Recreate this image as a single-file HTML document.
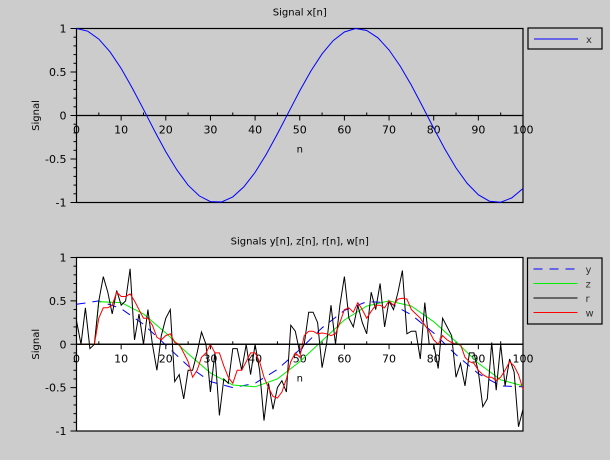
<!DOCTYPE html>
<html><head><meta charset="utf-8"><style>
body{margin:0;background:#cccccc;}
svg{display:block;font-family:"DejaVu Sans","Liberation Sans",sans-serif;}
</style></head><body>
<svg id="chart" width="610" height="460" xmlns="http://www.w3.org/2000/svg"></svg>
<script>
// ---- data ----
const xN = [0,2.5,5,7.5,10,12.5,15,17.5,20,22.5,25,27.5,30,32.5,35,37.5,40,42.5,45,47.5,50,52.5,55,57.5,60,62.5,65,67.5,70,72.5,75,77.5,80,82.5,85,87.5,90,92.5,95,97.5,100];
const xVals = [1.000,0.969,0.878,0.732,0.540,0.315,0.071,-0.178,-0.416,-0.628,-0.801,-0.924,-0.990,-0.994,-0.936,-0.820,-0.654,-0.446,-0.211,0.037,0.284,0.512,0.709,0.861,0.960,1.000,0.977,0.893,0.754,0.568,0.347,0.105,-0.146,-0.386,-0.602,-0.780,-0.911,-0.985,-0.997,-0.947,-0.839];
const yN = [0,5,10,15,20,25,30,35,40,45,50,55,60,65,70,75,80,85,90,95,100];
const yVals = [0.46,0.50,0.41,0.23,-0.01,-0.25,-0.43,-0.50,-0.45,-0.29,-0.06,0.19,0.39,0.49,0.48,0.34,0.13,-0.12,-0.34,-0.48,-0.49];
const zN = [0,4,5,10,15,20,25,30,35,40,45,50,55,60,65,70,75,80,85,90,95,100];
const zVals = [0,0,0.49,0.48,0.35,0.13,-0.11,-0.33,-0.47,-0.49,-0.40,-0.20,0.04,0.28,0.44,0.50,0.44,0.26,0.03,-0.22,-0.41,-0.48];
const rVals = [0.27,0.0,0.42,-0.05,0.0,0.5,0.78,0.6,0.35,0.62,0.45,0.5,0.87,0.05,0.35,0.0,0.4,0.0,-0.3,0.1,0.3,0.4,-0.43,-0.35,-0.63,-0.3,-0.3,-0.1,0.14,0.0,-0.55,-0.1,-0.82,-0.4,-0.45,-0.05,-0.05,-0.3,0.0,-0.35,0.0,-0.3,-0.88,-0.45,-0.75,-0.5,-0.42,-0.55,0.22,0.15,-0.1,0.0,0.37,0.37,0.25,-0.27,0.0,0.45,0.0,0.45,0.78,0.3,0.2,0.45,0.25,0.12,0.6,0.4,0.7,0.2,0.5,0.4,0.6,0.85,0.12,0.15,0.15,-0.17,0.48,0.0,0.0,-0.28,0.3,0.2,0.1,-0.38,-0.22,-0.48,-0.1,-0.1,-0.32,-0.72,-0.63,0.02,-0.53,0.0,-0.48,-0.17,-0.32,-0.95,-0.75];
const wVals = [0,0,0,0,0,0.3,0.42,0.42,0.45,0.6,0.55,0.55,0.58,0.5,0.4,0.3,0.3,0.22,0.08,0.05,0.1,0.12,0.02,0.0,-0.1,-0.2,-0.38,-0.3,-0.15,-0.1,0.0,-0.1,-0.1,-0.25,-0.38,-0.45,-0.3,-0.3,-0.2,-0.1,-0.1,-0.2,-0.38,-0.5,-0.6,-0.62,-0.55,-0.4,-0.2,-0.1,-0.15,0.1,0.15,0.15,0.12,0.13,0.12,0.1,0.12,0.25,0.4,0.42,0.37,0.48,0.4,0.3,0.38,0.45,0.45,0.42,0.5,0.45,0.52,0.53,0.52,0.4,0.35,0.3,0.22,0.15,0.05,0.0,0.1,0.05,0.02,0.0,0.0,-0.15,-0.2,-0.22,-0.3,-0.35,-0.38,-0.38,-0.42,-0.38,-0.3,-0.2,-0.25,-0.35,-0.52];
const xTicks = [0,10,20,30,40,50,60,70,80,90,100];
const yTicks = [-1,-0.5,0,0.5,1];

const NS="http://www.w3.org/2000/svg";
const svg=document.getElementById('chart');
function mk(tag,attrs,parent){const e=document.createElementNS(NS,tag);for(const k in attrs)e.setAttribute(k,attrs[k]);(parent||svg).appendChild(e);return e;}

function makeAxes(top,bottom,title,fill,name){
  const L=76.5,R=523;
  const g=mk('g',{});
  
  
  const sx=v=>L+(v/100)*(R-L);
  const sy=v=>(top+bottom)/2-v*(bottom-top)/2;
  const bg=mk('rect',{x:L,y:top,width:R-L,height:bottom-top,fill:fill,stroke:'#000','stroke-width':1.2},g);
  
  
  const t=mk('text',{x:(L+R)/2,y:top-13,'font-size':10,'text-anchor':'middle',fill:'#000'},g);
  t.textContent=title;
  
  
  // y minor/major ticks
  for(let i=-10;i<=10;i++){const v=i/10;const maj=(i%5===0);
    mk('line',{x1:L-(maj?6:3),x2:L,y1:sy(v),y2:sy(v),stroke:'#000','stroke-width':1},g);}
  yTicks.forEach(v=>{const tx=mk('text',{x:L-10,y:sy(v)+4,'font-size':11,'text-anchor':'end',fill:'#000'},g);tx.textContent=String(v);
    
    });
  // zero line x axis
  const y0=sy(0);
  mk('line',{x1:L,x2:R,y1:y0,y2:y0,stroke:'#000','stroke-width':1.2},g);
  for(let v=5;v<100;v+=10) mk('line',{x1:sx(v),x2:sx(v),y1:y0,y2:y0-3,stroke:'#000'},g);
  xTicks.forEach(v=>{mk('line',{x1:sx(v),x2:sx(v),y1:y0,y2:y0+5,stroke:'#000'},g);
    const tx=mk('text',{x:sx(v),y:y0+18,'font-size':11,'text-anchor':'middle',fill:'#000'},g);tx.textContent=String(v);
    
    });
  const xl=mk('text',{x:(L+R)/2,y:y0+37,'font-size':10,'text-anchor':'middle',fill:'#000'},g);xl.textContent='n';
  
  
  const yl=mk('text',{x:0,y:0,'font-size':10,'text-anchor':'middle',fill:'#000',transform:`translate(39,${y0}) rotate(-90)`},g);yl.textContent='Signal';
  
  
  return {g,sx,sy};
}
function series(ax,ns,vals,color,name,dash){
  const pts=vals.map((v,i)=>ax.sx(ns?ns[i]:i).toFixed(1)+','+ax.sy(v).toFixed(1)).join(' ');
  const p=mk('polyline',{points:pts,fill:'none',stroke:color,'stroke-width':1,'stroke-dasharray':dash||'none'},ax.g);
  
  
}
function legend(x,y,w,h,items,name){
  const g=mk('g',{});
  
  
  mk('rect',{x:x,y:y,width:w,height:h,fill:'#cccccc',stroke:'#000','stroke-width':1.2},g);
  items.forEach((it,i)=>{const cy=y+11+i*14.5;
    const ln=mk('line',{x1:x+6,x2:x+50,y1:cy,y2:cy,stroke:it.c,'stroke-width':1,'stroke-dasharray':it.d||'none'},g);
    
    
    const t=mk('text',{x:x+58,y:cy+4,'font-size':10,fill:'#333'},g);t.textContent=it.t;
    
    });
}
const a1=makeAxes(28.5,202.5,'Signal x[n]','none','top-axes');
series(a1,xN,xVals,'#0000ff','series-x');
const a2=makeAxes(257.5,431,'Signals y[n], z[n], r[n], w[n]','#ffffff','bottom-axes');
series(a2,yN,yVals,'#0000ff','series-y','9,7');
series(a2,zN,zVals,'#00ee00','series-z');
series(a2,null,rVals,'#000000','series-r');
series(a2,null,wVals,'#ff0000','series-w');
// redraw zero line over series for bottom
mk('line',{x1:76.5,x2:523,y1:a2.sy(0),y2:a2.sy(0),stroke:'#000','stroke-width':1.2},a2.g);
legend(528,28,74,21,[{t:'x',c:'#0000ff'}],'legend-top');
legend(527.5,258,74.5,66,[{t:'y',c:'#0000ff',d:'9,7'},{t:'z',c:'#00ee00'},{t:'r',c:'#000'},{t:'w',c:'#ff0000'}],'legend-bottom');
</script>
</body></html>
